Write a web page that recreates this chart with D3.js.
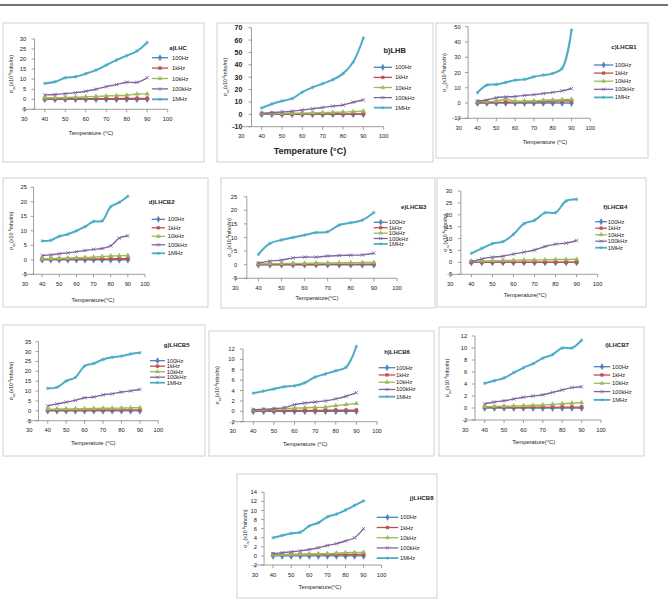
<!DOCTYPE html>
<html lang="en">
<head>
<meta charset="UTF-8">
<title>Conductivity vs temperature</title>
<script src="https://d3js.org/d3.v7.min.js"></script>
<style>
    html, body { margin: 0; padding: 0; background: #fff; overflow: hidden; }
    svg { display: block; font-family: "Liberation Sans", Arial, sans-serif; }
</style>
</head>
<body>
<svg id="fig" width="668" height="601"></svg>
<script>
// ---- data ----
const temps = [40, 45, 50, 55, 60, 65, 70, 75, 80, 85, 90];
const xTicks = [30, 40, 50, 60, 70, 80, 90, 100];
const seriesNames = ["100Hz", "1kHz", "10kHz", "100kHz", "1MHz"];
const seriesColors = ["#4f81bd", "#c0504d", "#9bbb59", "#8064a2", "#4bacc6"];
const panelTitles = ["a)LHC", "b)LHB", "c)LHCB1", "d)LHCB2", "e)LHCB3", "f)LHCB4", "g)LHCB5", "h)LHCB6", "i)LHCB7", "j)LHCB8"];
// [min, max, step] of each y axis
const yRanges = [[-5, 30, 5], [-10, 70, 10], [-10, 50, 10], [-5, 25, 5], [-5, 25, 5], [-5, 30, 5], [-5, 35, 5], [-2, 12, 2], [-2, 12, 2], [-2, 14, 2]];

// rows: 100Hz, 1kHz, 10kHz, 100kHz, 1MHz
const lhc = [
    [0, 0, 0, 0, 0, 0, 0, 0, 0, 0, 0],
    [0.2, 0.2, 0.2, 0.3, 0.3, 0.3, 0.3, 0.3, 0.4, 0.4, 0.4],
    [0.7, 0.8, 0.9, 1.0, 1.2, 1.4, 1.6, 1.8, 2.0, 2.6, 2.7],
    [2.2, 2.4, 2.8, 3.3, 4.0, 5.0, 6.3, 7.3, 8.5, 8.4, 10.7],
    [7.9, 8.7, 10.7, 11.2, 12.7, 14.5, 17.0, 19.5, 21.7, 24.0, 28.3]
];
const lhb = [
    [0, 0, 0, 0, 0, 0, 0, 0, 0, 0, 0],
    [0.3, 0.3, 0.3, 0.3, 0.3, 0.3, 0.3, 0.4, 0.4, 0.4, 0.4],
    [0.5, 0.6, 0.8, 0.9, 1.0, 1.2, 1.4, 1.6, 1.8, 2.2, 2.5],
    [1.0, 1.3, 2.0, 2.5, 3.5, 4.5, 5.5, 6.6, 7.5, 9.8, 11.6],
    [5.1, 8.4, 10.8, 12.7, 18.0, 21.8, 24.8, 28.0, 32.9, 42.3, 61.7]
];
const lhcb1 = [
    [0, 0, 0, 0, 0, 0, 0, 0, 0, 0, 0],
    [0.2, 0.3, 0.4, 0.5, 0.6, 0.7, 0.8, 1.0, 1.2, 1.4, 1.5],
    [0.8, 0.9, 1.2, 2.5, 1.2, 1.3, 1.4, 1.8, 2.0, 2.2, 2.4],
    [1.3, 2.0, 3.5, 4.0, 4.3, 5.0, 5.5, 6.3, 7.0, 8.0, 9.5],
    [6.8, 11.8, 12.2, 13.5, 15.0, 15.5, 17.2, 18.3, 19.4, 22.7, 47.8]
];
const lhcb2 = [
    [0, 0, 0, 0, 0, 0, 0, 0, 0, 0, 0],
    [0.2, 0.2, 0.2, 0.2, 0.3, 0.3, 0.3, 0.3, 0.3, 0.4, 0.4],
    [0.3, 0.4, 0.5, 0.6, 0.7, 0.8, 0.9, 1.1, 1.3, 1.4, 1.5],
    [1.5, 1.7, 2.1, 2.4, 2.8, 3.2, 3.6, 3.9, 4.8, 7.5, 8.3],
    [6.5, 6.7, 8.1, 8.8, 10.0, 11.4, 13.2, 13.4, 18.3, 19.8, 21.9]
];
const lhcb3 = [
    [0, 0, 0, 0, 0, 0, 0, 0, 0, 0, 0],
    [0.1, 0.1, 0.1, 0.1, 0.1, 0.1, 0.2, 0.2, 0.2, 0.2, 0.2],
    [0.3, 0.4, 0.4, 0.5, 0.5, 0.6, 0.6, 0.7, 0.7, 0.8, 0.8],
    [0.6, 1.3, 1.7, 2.5, 2.8, 2.8, 3.2, 3.4, 3.5, 3.6, 4.2],
    [3.8, 7.8, 9.1, 10.0, 10.9, 11.8, 12.1, 14.6, 15.4, 16.4, 19.2]
];
const lhcb4 = [
    [0, 0, 0, 0, 0, 0, 0, 0, 0, 0, 0],
    [0.1, 0.1, 0.1, 0.1, 0.1, 0.1, 0.1, 0.1, 0.1, 0.1, 0.1],
    [0.5, 0.6, 0.7, 0.8, 0.9, 1.0, 1.0, 1.1, 1.2, 1.2, 1.3],
    [0.3, 1.5, 2.2, 2.6, 3.5, 4.3, 5.2, 6.7, 7.7, 8.1, 9.2],
    [3.8, 5.9, 7.9, 8.7, 11.8, 16.3, 17.7, 20.9, 20.9, 25.8, 26.5]
];
const lhcb5 = [
    [0, 0, 0, 0, 0, 0, 0, 0, 0, 0, 0],
    [0.3, 0.3, 0.3, 0.3, 0.4, 0.4, 0.4, 0.4, 0.5, 0.5, 0.5],
    [0.8, 0.9, 1.0, 1.0, 1.1, 1.2, 1.3, 1.3, 1.4, 1.5, 1.6],
    [2.5, 3.5, 4.4, 5.3, 6.6, 7.0, 8.1, 8.6, 9.5, 10.1, 10.8],
    [11.4, 11.9, 15.1, 16.9, 22.7, 24.0, 26.0, 27.1, 27.7, 28.8, 29.4]
];
const lhcb6 = [
    [0, 0, 0, 0, 0, 0, 0, 0, 0, 0, 0],
    [0.1, 0.1, 0.1, 0.15, 0.15, 0.15, 0.15, 0.2, 0.2, 0.2, 0.2],
    [0.2, 0.3, 0.4, 0.5, 0.6, 0.7, 0.75, 0.8, 1.1, 1.3, 1.5],
    [0.3, 0.4, 0.5, 0.7, 1.3, 1.6, 1.8, 2.0, 2.4, 2.9, 3.6],
    [3.5, 3.9, 4.3, 4.75, 4.9, 5.5, 6.6, 7.2, 7.8, 8.5, 12.5]
];
const lhcb7 = [
    [0, 0, 0, 0, 0, 0, 0, 0, 0, 0, 0],
    [0.1, 0.1, 0.1, 0.1, 0.1, 0.15, 0.15, 0.15, 0.15, 0.15, 0.15],
    [0.2, 0.25, 0.3, 0.35, 0.4, 0.45, 0.5, 0.6, 0.7, 0.8, 0.9],
    [0.7, 1.0, 1.2, 1.5, 1.8, 2.0, 2.2, 2.6, 3.0, 3.4, 3.55],
    [4.1, 4.55, 5.0, 5.9, 6.7, 7.4, 8.3, 8.9, 10.0, 10.0, 11.3]
];
const lhcb8 = [
    [0, 0, 0, 0, 0, 0, 0, 0, 0, 0, 0],
    [0.4, 0.3, 0.3, 0.3, 0.3, 0.3, 0.3, 0.3, 0.3, 0.3, 0.3],
    [0.2, 0.25, 0.3, 0.35, 0.4, 0.45, 0.5, 0.6, 0.7, 0.75, 0.8],
    [0.5, 0.7, 0.9, 1.1, 1.4, 1.8, 2.3, 2.7, 3.3, 4.0, 6.0],
    [4.0, 4.5, 4.95, 5.2, 6.6, 7.3, 8.6, 9.2, 10.1, 11.1, 12.1]
];
const panelData = [lhc, lhb, lhcb1, lhcb2, lhcb3, lhcb4, lhcb5, lhcb6, lhcb7, lhcb8];

// ---- layout (pixels) ----
// box: frame, px: pixel of x=30 and x=100, py: pixel of y max and y min,
// title: [x,y], leg: [lineX0, lineX1, textX, firstY, dy], xt: axis title [x,y]
const layout = [
    { box: [3, 23, 204, 162], px: [24.3, 167.7], py: [39, 109.3], title: [178, 48], leg: [152, 168, 172, 57.7, 10.4], xt: [91, 133, "Temperature (°C)"] },
    { box: [217, 23, 433, 162], px: [241.3, 383.7], py: [27.7, 126.7], title: [394.7, 50], leg: [373.7, 392, 395, 67.3, 10.1], xt: [310, 151, "Temperature (°C)"], big: true },
    { box: [436, 23, 648, 158], px: [458.7, 590.3], py: [26.7, 118.3], title: [624, 46.5], leg: [594, 613.3, 614.7, 65, 8.1], xt: [545, 142, "Temperature (°C)"] },
    { box: [3, 178, 208, 307], px: [25, 145], py: [187.3, 274.3], title: [161.7, 202.3], leg: [151.7, 165, 167.7, 219.3, 8.5], xt: [93, 300, "Temperature(°C)"] },
    { box: [221, 178, 435, 308], px: [235.3, 397], py: [196.7, 278.3], title: [413.7, 206.7], leg: [373.7, 387.7, 388.7, 222.3, 5.4], xt: [317, 297.7, "Temperature(°C)"] },
    { box: [437, 178, 646, 307], px: [450.3, 597.7], py: [191, 274.3], title: [615.3, 207.3], leg: [595.3, 607, 607.7, 221.7, 6.5], xt: [525.3, 295, "Temperature(°C)"] },
    { box: [3, 325, 205, 456], px: [29.3, 158.3], py: [341.7, 420.7], title: [176.7, 345], leg: [150, 165, 166.7, 360.7, 5.5], xt: [93.3, 443.3, "Temperature (°C)"] },
    { box: [209, 331, 434, 456], px: [232.7, 377], py: [349, 421.7], title: [397, 351.7], leg: [378.7, 395.3, 396, 367.7, 7.25], xt: [305.3, 444, "Temperature (°C)"] },
    { box: [439, 327, 644, 456], px: [465.3, 601], py: [336, 420], title: [617, 345], leg: [593.7, 610.3, 612, 366.7, 8.3], xt: [533.7, 441.7, "Temperature(°C)"] },
    { box: [237, 474, 437, 598], px: [255, 381.7], py: [492.3, 565], title: [421.7, 498.3], leg: [376.7, 398.3, 400, 517.3, 10.2], xt: [320, 587.3, "Temperature(°C)"] }
];

const symbols = [d3.symbolDiamond, d3.symbolSquare, d3.symbolTriangle, d3.symbolX, d3.symbolAsterisk];
const symbolSizes = [14, 10, 9, 10, 9];

const svg = d3.select("#fig");

// cut-off page rule at top
svg.append("line").attr("x1", 0).attr("x2", 668).attr("y1", 5).attr("y2", 5)
    .attr("stroke", "#444").attr("stroke-width", 1.5);

layout.forEach((L, p) => {
    const g = svg.append("g");
    const [bx0, by0, bx1, by1] = L.box;
    g.append("rect").attr("x", bx0).attr("y", by0).attr("width", bx1 - bx0).attr("height", by1 - by0)
        .attr("fill", "#fff").attr("stroke", "#d0d0d0").attr("stroke-width", 1);

    const [ymin, ymax, ystep] = yRanges[p];
    const x = d3.scaleLinear().domain([30, 100]).range(L.px);
    const y = d3.scaleLinear().domain([ymin, ymax]).range([L.py[1], L.py[0]]);
    const yTicks = d3.range(ymin, ymax + ystep / 2, ystep);
    const fs = L.big ? 7 : 5.8;

    // y axis (crosses at x = 35)
    const ax = x(35);
    g.append("line").attr("x1", ax).attr("x2", ax).attr("y1", y(ymax)).attr("y2", y(ymin))
        .attr("stroke", "#868686").attr("stroke-width", 0.8);
    yTicks.forEach(t => {
        g.append("line").attr("x1", ax - 3).attr("x2", ax).attr("y1", y(t)).attr("y2", y(t))
            .attr("stroke", "#868686").attr("stroke-width", 0.8);
        g.append("text").attr("x", x(30) + (L.big ? 1 : 2)).attr("y", y(t)).attr("dy", "0.35em")
            .attr("text-anchor", "end").attr("font-size", fs).attr("fill", "#222")
            .attr("font-weight", L.big ? "bold" : "normal").text(t);
    });

    // x axis along y min
    g.append("line").attr("x1", x(30)).attr("x2", x(100)).attr("y1", y(ymin)).attr("y2", y(ymin))
        .attr("stroke", "#868686").attr("stroke-width", 0.8);
    xTicks.forEach(t => {
        g.append("line").attr("x1", x(t)).attr("x2", x(t)).attr("y1", y(ymin)).attr("y2", y(ymin) + 3)
            .attr("stroke", "#868686").attr("stroke-width", 0.8);
        g.append("text").attr("x", x(t)).attr("y", y(ymin) + 9.5).attr("dy", "0.35em")
            .attr("text-anchor", "middle").attr("font-size", 5.8).attr("fill", "#222").text(t);
    });

    // axis titles
    g.append("text").attr("x", L.xt[0]).attr("y", L.xt[1]).attr("dy", "0.35em")
        .attr("text-anchor", "middle").attr("font-size", L.big ? 9 : 5.8)
        .attr("font-weight", L.big ? "bold" : "normal").attr("fill", "#222").text(L.xt[2]);
    const yt = g.append("text")
        .attr("transform", `translate(${bx0 + 10},${(y(ymax) + y(ymin)) / 2}) rotate(-90)`)
        .attr("text-anchor", "middle").attr("font-size", 5.2).attr("fill", "#222");
    yt.append("tspan").text("σ");
    yt.append("tspan").attr("font-size", 3.8).attr("dy", 1.5).text("ac");
    yt.append("tspan").attr("dy", -1.5).text("(x10");
    yt.append("tspan").attr("font-size", 3.8).attr("dy", -2).text("-6");
    yt.append("tspan").attr("dy", 2).text("mho/m)");

    // panel title
    g.append("text").attr("x", L.title[0]).attr("y", L.title[1]).attr("dy", "0.35em")
        .attr("text-anchor", "middle").attr("font-size", L.big ? 7.5 : 6).attr("font-weight", "bold")
        .attr("fill", "#222").text(panelTitles[p]);

    // series
    const line = d3.line().x((d, i) => x(temps[i])).y(d => y(d)).curve(d3.curveCatmullRom.alpha(0.5));
    panelData[p].forEach((vals, s) => {
        g.append("path").datum(vals).attr("d", line).attr("fill", "none")
            .attr("stroke", seriesColors[s]).attr("stroke-width", s === 4 ? 2 : 1.4);
        const sym = d3.symbol().type(symbols[s]).size(symbolSizes[s]);
        g.selectAll(null).data(vals).enter().append("path")
            .attr("d", sym)
            .attr("transform", (d, i) => `translate(${x(temps[i])},${y(d)})`)
            .attr("fill", s >= 3 ? "none" : seriesColors[s])
            .attr("stroke", seriesColors[s]).attr("stroke-width", s >= 3 ? 0.8 : 0.4);
    });

    // legend
    const [lx0, lx1, tx, ly0, ldy] = L.leg;
    seriesNames.forEach((name, s) => {
        const ly = ly0 + s * ldy;
        g.append("line").attr("x1", lx0).attr("x2", lx1).attr("y1", ly).attr("y2", ly)
            .attr("stroke", seriesColors[s]).attr("stroke-width", s === 4 ? 1.8 : 1.3);
        g.append("path").attr("d", d3.symbol().type(symbols[s]).size(symbolSizes[s] * 0.8))
            .attr("transform", `translate(${(lx0 + lx1) / 2},${ly})`)
            .attr("fill", s >= 3 ? "none" : seriesColors[s])
            .attr("stroke", seriesColors[s]).attr("stroke-width", s >= 3 ? 0.8 : 0.4);
        g.append("text").attr("x", tx).attr("y", ly).attr("dy", "0.35em")
            .attr("font-size", 5.8).attr("fill", "#222").text(name);
    });
});
</script>
</body>
</html>
